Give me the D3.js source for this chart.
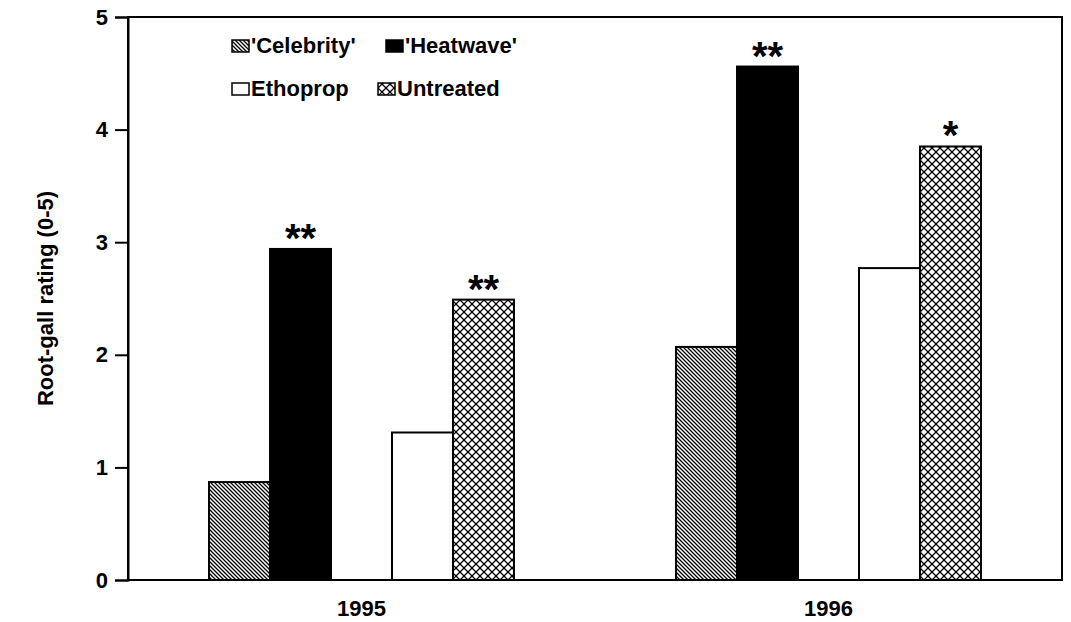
<!DOCTYPE html>
<html>
<head>
<meta charset="utf-8">
<script src="https://cdn.jsdelivr.net/npm/d3@7"></script>
<style>
    body { margin: 0; background: #fff; }
    text { font-family: "Liberation Sans", Arial, sans-serif; font-weight: bold; fill: #000; }
</style>
</head>
<body>
<div id="chart"></div>
<script>

// data
let years = ["1995", "1996"];
let treatments = ["Celebrity", "Heatwave", "Ethoprop", "Untreated"];
let legendLabels = ["'Celebrity'", "'Heatwave'", "Ethoprop", "Untreated"];
let celebrity = [0.87, 2.07];
let heatwave = [2.94, 4.56];
let ethoprop = [1.31, 2.77];
let untreated = [2.49, 3.85];
let stars = [["", "**", "", "**"], ["", "**", "", "*"]];
let yTicks = [0, 1, 2, 3, 4, 5];

let seriesValues = [celebrity, heatwave, ethoprop, untreated];

let width = 1071, height = 622;
let margin = {top: 17, right: 9, bottom: 42, left: 128};

let svg = d3.select("#chart").append("svg")
    .attr("width", width)
    .attr("height", height);

// fill patterns
let defs = svg.append("defs");

let diag = defs.append("pattern")
    .attr("id", "diag")
    .attr("patternUnits", "userSpaceOnUse")
    .attr("width", 4)
    .attr("height", 4);
diag.append("rect").attr("width", 4).attr("height", 4).attr("fill", "#fff");
diag.append("path")
    .attr("d", "M0,0L4,4M-1,3L1,5M3,-1L5,1")
    .attr("stroke", "#000")
    .attr("stroke-width", 1.3);

let cross = defs.append("pattern")
    .attr("id", "cross")
    .attr("patternUnits", "userSpaceOnUse")
    .attr("width", 8)
    .attr("height", 8);
cross.append("rect").attr("width", 8).attr("height", 8).attr("fill", "#fff");
cross.append("path")
    .attr("d", "M0,0L8,8M8,0L0,8")
    .attr("stroke", "#000")
    .attr("stroke-width", 1.3);

let fills = {Celebrity: "url(#diag)", Heatwave: "#000", Ethoprop: "#fff", Untreated: "url(#cross)"};

// scales
let x0 = d3.scaleBand()
    .domain(years)
    .range([margin.left, width - margin.right])
    .paddingInner(0.347)
    .paddingOuter(0.1735);

// five slots per year, middle one left empty
let x1 = d3.scaleBand()
    .domain(["Celebrity", "Heatwave", "gap", "Ethoprop", "Untreated"])
    .range([0, x0.bandwidth()]);

let y = d3.scaleLinear()
    .domain([0, 5])
    .range([height - margin.bottom, margin.top]);

// bars
let barData = [];
years.forEach((yr, i) => {
    treatments.forEach((t, j) => {
        barData.push({year: yr, treatment: t, value: seriesValues[j][i], star: stars[i][j]});
    });
});

svg.append("g").selectAll("rect")
    .data(barData)
    .enter().append("rect")
    .attr("x", d => x0(d.year) + x1(d.treatment))
    .attr("y", d => y(d.value))
    .attr("width", x1.bandwidth())
    .attr("height", d => y(0) - y(d.value))
    .attr("fill", d => fills[d.treatment])
    .attr("stroke", "#000")
    .attr("stroke-width", 2);

// significance marks
svg.append("g").selectAll("text")
    .data(barData.filter(d => d.star !== ""))
    .enter().append("text")
    .attr("x", d => x0(d.year) + x1(d.treatment) + x1.bandwidth() / 2)
    .attr("y", d => y(d.value) + 3)
    .attr("text-anchor", "middle")
    .style("font-size", "40px")
    .text(d => d.star);

// frame
svg.append("rect")
    .attr("x", margin.left)
    .attr("y", margin.top)
    .attr("width", width - margin.left - margin.right)
    .attr("height", height - margin.top - margin.bottom)
    .attr("fill", "none")
    .attr("stroke", "#000")
    .attr("stroke-width", 2);

// y axis
let yAxis = d3.axisLeft(y)
    .tickValues(yTicks)
    .tickFormat(d3.format("d"))
    .tickSize(13)
    .tickPadding(7);

let gy = svg.append("g")
    .attr("transform", `translate(${margin.left},0)`)
    .call(yAxis);
gy.select(".domain").attr("stroke-width", 2);
gy.selectAll(".tick line").attr("stroke-width", 2);
gy.selectAll(".tick text")
    .style("font-size", "22px")
    .style("font-family", "'Liberation Sans', Arial, sans-serif")
    .style("font-weight", "bold");

// x labels
svg.append("g").selectAll("text")
    .data(years)
    .enter().append("text")
    .attr("x", d => x0(d) + x0.bandwidth() / 2)
    .attr("y", 616)
    .attr("text-anchor", "middle")
    .style("font-size", "22px")
    .text(d => d);

// y title
svg.append("text")
    .attr("transform", `translate(53,${(margin.top + height - margin.bottom) / 2}) rotate(-90)`)
    .attr("text-anchor", "middle")
    .style("font-size", "22px")
    .text("Root-gall rating (0-5)");

// legend
let legendPos = [[232, 53], [386, 53], [232, 96], [378, 96]];

let legend = svg.append("g").selectAll("g")
    .data(treatments)
    .enter().append("g")
    .attr("transform", (d, i) => `translate(${legendPos[i][0]},${legendPos[i][1]})`);

legend.append("rect")
    .attr("x", 0)
    .attr("y", -13)
    .attr("width", 17)
    .attr("height", 12)
    .attr("fill", d => fills[d])
    .attr("stroke", "#000")
    .attr("stroke-width", 1.5);

legend.append("text")
    .attr("x", 19)
    .attr("y", 0)
    .style("font-size", "22px")
    .text((d, i) => legendLabels[i]);

</script>
</body>
</html>
